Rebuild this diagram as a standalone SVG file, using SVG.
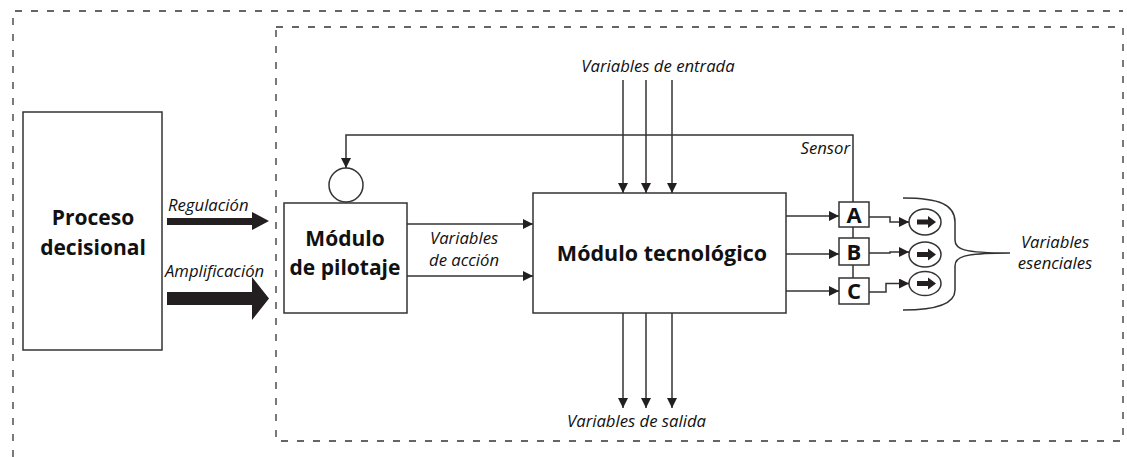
<svg xmlns="http://www.w3.org/2000/svg" width="1127" height="457" viewBox="0 0 1127 457">
<style>
.dash{fill:none;stroke:#333;stroke-width:1.3;stroke-dasharray:7 9}
.box{fill:#fff;stroke:#333;stroke-width:1.5}
.ln{fill:none;stroke:#333;stroke-width:1.5}
.bold{font-family:"Open Sans","Noto Sans",sans-serif;font-weight:bold;fill:#111;text-anchor:middle}
.it{font-family:"Open Sans","Noto Sans",sans-serif;font-style:italic;fill:#111;font-size:16.7px}
.fat{fill:#231f20}
</style>
<defs>
<marker id="ah" markerUnits="userSpaceOnUse" markerWidth="11" markerHeight="10" refX="10" refY="5" orient="auto">
<path d="M0,0 L10,5 L0,10 z" fill="#231f20"/>
</marker>
</defs>
<g id="frames">
<polyline class="dash" points="13,457 13,11 1123,11"/>
<rect class="dash" x="276" y="27" width="847" height="414"/>
</g>
<g id="proceso">
<rect class="box" x="23" y="112" width="139" height="238"/>
<text class="bold" font-size="21" x="93" y="225">Proceso</text>
<text class="bold" font-size="21" x="93" y="255">decisional</text>
</g>
<g id="pilotaje">
<rect class="box" x="284" y="203" width="123" height="110"/>
<text class="bold" font-size="21" x="345" y="246">Módulo</text>
<text class="bold" font-size="21" x="345" y="275">de pilotaje</text>
</g>
<g id="comparador">
<circle class="box" cx="346" cy="185" r="17"/>
</g>
<g id="tecnologico">
<rect class="box" x="533" y="193" width="253" height="120"/>
<text class="bold" font-size="21.5" x="662" y="261">Módulo tecnológico</text>
</g>
<g id="sensorA">
<rect class="box" x="839" y="202" width="30" height="25"/>
<text class="bold" font-size="22" x="854" y="222.5">A</text>
</g>
<g id="sensorB">
<rect class="box" x="839" y="238" width="30" height="27"/>
<text class="bold" font-size="22" x="854" y="259.5">B</text>
</g>
<g id="sensorC">
<rect class="box" x="839" y="278" width="30" height="26"/>
<text class="bold" font-size="22" x="854" y="299">C</text>
</g>
<g id="esencialA">
<ellipse class="box" cx="925" cy="222" rx="16" ry="13"/>
<path class="fat" d="M917,219.5 H928 V216 L936,222 L928,228 V224.5 H917 z"/>
</g>
<g id="esencialB">
<ellipse class="box" cx="925" cy="254.5" rx="16" ry="12.5"/>
<path class="fat" d="M917,252 H928 V248.5 L936,254.5 L928,260.5 V257 H917 z"/>
</g>
<g id="esencialC">
<ellipse class="box" cx="925" cy="283.5" rx="16" ry="12"/>
<path class="fat" d="M917,281 H928 V277.5 L936,283.5 L928,289.5 V286 H917 z"/>
</g>
<g id="connectors">
<path class="fat" d="M167,218 H252 V212 L269,221 L252,230 V225 H167 z"/>
<path class="fat" d="M167,292 H252 V277 L269,298.5 L252,320 V305 H167 z"/>
<line class="ln" x1="407" y1="224" x2="533" y2="224" marker-end="url(#ah)"/>
<line class="ln" x1="407" y1="276" x2="533" y2="276" marker-end="url(#ah)"/>
<line class="ln" x1="623" y1="80" x2="623" y2="193" marker-end="url(#ah)"/>
<line class="ln" x1="646" y1="80" x2="646" y2="193" marker-end="url(#ah)"/>
<line class="ln" x1="672" y1="80" x2="672" y2="193" marker-end="url(#ah)"/>
<line class="ln" x1="623" y1="313" x2="623" y2="408" marker-end="url(#ah)"/>
<line class="ln" x1="646" y1="313" x2="646" y2="408" marker-end="url(#ah)"/>
<line class="ln" x1="672" y1="313" x2="672" y2="408" marker-end="url(#ah)"/>
<polyline class="ln" points="853,202 853,135 346,135 346,168" marker-end="url(#ah)"/>
<line class="ln" x1="853" y1="227" x2="853" y2="238"/>
<line class="ln" x1="853" y1="265" x2="853" y2="278"/>
<line class="ln" x1="786" y1="216" x2="839" y2="216" marker-end="url(#ah)"/>
<line class="ln" x1="786" y1="254" x2="839" y2="254" marker-end="url(#ah)"/>
<line class="ln" x1="786" y1="291" x2="839" y2="291" marker-end="url(#ah)"/>
<polyline class="ln" points="869,217 890,217 890,222 909,222" marker-end="url(#ah)"/>
<polyline class="ln" points="869,253 890,253 890,252 909,252" marker-end="url(#ah)"/>
<polyline class="ln" points="869,292 886,292 886,283.5 909,283.5" marker-end="url(#ah)"/>
<path class="ln" d="M903,198 C940,198 955,205 955,222 L955,240 C955,249 962,253 1010,253 C962,253 955,257 955,266 L955,290 C955,303 940,310 903,310"/>
</g>
<g id="labels">
<text class="it" x="168" y="211">Regulación</text>
<text class="it" x="165" y="277">Amplificación</text>
<text class="it" x="430" y="244">Variables</text>
<text class="it" x="429" y="266">de acción</text>
<text class="it" x="658" y="72" text-anchor="middle">Variables de entrada</text>
<text class="it" x="636.5" y="427" text-anchor="middle">Variables de salida</text>
<text class="it" x="850" y="154" text-anchor="end">Sensor</text>
<text class="it" x="1055" y="248" text-anchor="middle">Variables</text>
<text class="it" x="1055" y="269" text-anchor="middle">esenciales</text>
</g>
</svg>
